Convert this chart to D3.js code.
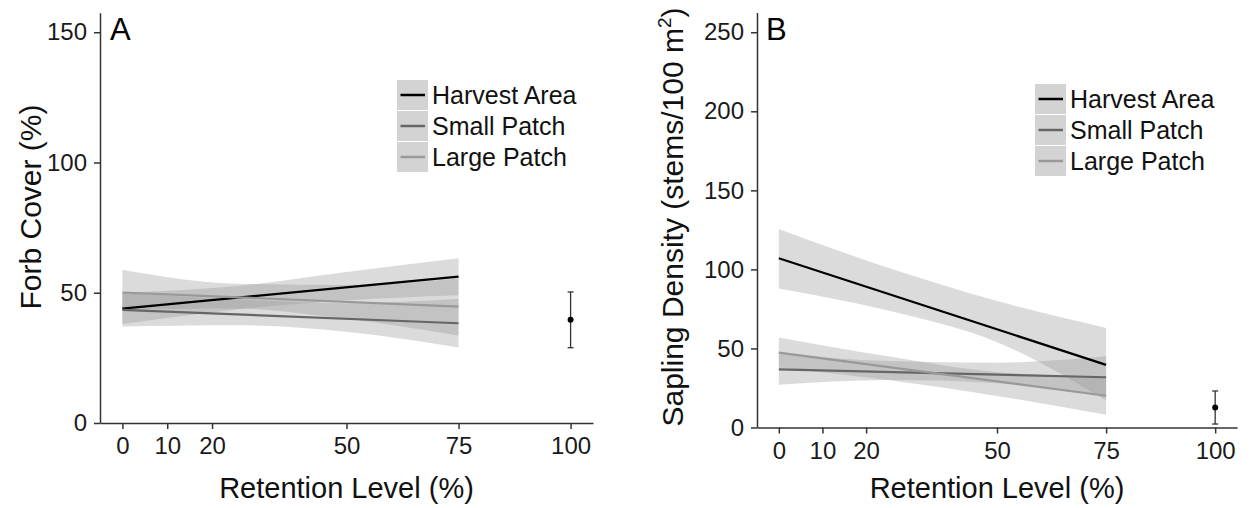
<!DOCTYPE html>
<html>
<head>
<meta charset="utf-8">
<script src="https://cdn.jsdelivr.net/npm/d3@7"></script>
<style>
  body { margin: 0; background: #fff; }
  svg { font-family: "Liberation Sans", Arial, sans-serif; }
</style>
</head>
<body>
<svg id="chart" width="1250" height="508"></svg>
<script>
// retention levels
let xTicks = [0, 10, 20, 50, 75, 100];
let fitX = [0, 75];          // ends of the fitted lines
let bandX = [0, 25, 50, 75]; // where the ribbon edges were read
let groups = ["Harvest Area", "Small Patch", "Large Patch"];
let lineColors = ["#000000", "#666666", "#999999"];

// panel A : forb cover (%)
let forbTicks = [0, 50, 100, 150];
let forbFit = [[43.9, 56.2], [43.4, 38.3], [50.1, 44.7]];
let forbLower = [[38, 43.5, 47, 49], [37, 37.5, 35, 29], [43.5, 44, 40, 33.6]];
let forbUpper = [[50, 52.5, 58, 63.2], [50, 47.5, 46, 47.7], [58.8, 53.5, 53, 55.5]];
let forbControl = {mean: 39.6, lo: 28.9, hi: 50.3};

// panel B : sapling density (stems/100 m2)
let saplingTicks = [0, 50, 100, 150, 200, 250];
let saplingFit = [[107.1, 39.6], [36.8, 31.8], [47.4, 20.1]];
let saplingLower = [[88, 74, 54, 17], [27, 30, 28, 20], [38, 30, 20, 8]];
let saplingUpper = [[125.6, 101, 80, 63], [47, 42, 41, 45], [57, 45, 35, 32]];
let saplingControl = {mean: 12.7, lo: 2.2, hi: 23.1};

let svg = d3.select("#chart");

function drawPanel(cfg) {
  let {left, right, top, bottom, yMax, yTicks, fit, lower, upper, control} = cfg;

  let xScale = d3.scaleLinear().domain([-5, 105]).range([left, right]);
  let yScale = d3.scaleLinear().domain([0, yMax * 1.05]).range([bottom, top]);

  let g = svg.append("g");

  // ribbons
  let area = d3.area()
    .x(d => xScale(d.x))
    .y0(d => yScale(d.lo))
    .y1(d => yScale(d.hi))
    .curve(d3.curveMonotoneX);

  groups.forEach((name, i) => {
    let pts = bandX.map((x, j) => ({x: x, lo: lower[i][j], hi: upper[i][j]}));
    g.append("path")
      .attr("d", area(pts))
      .attr("fill", "#999999")
      .attr("fill-opacity", 0.35);
  });

  // fitted lines
  let line = d3.line().x(d => xScale(d[0])).y(d => yScale(d[1]));
  groups.forEach((name, i) => {
    g.append("path")
      .attr("d", line(fitX.map((x, j) => [x, fit[i][j]])))
      .attr("fill", "none")
      .attr("stroke", lineColors[i])
      .attr("stroke-width", 2.2);
  });

  // control (100% retention) mean and error bar
  let cx = xScale(100);
  g.append("line")
    .attr("x1", cx).attr("x2", cx)
    .attr("y1", yScale(control.lo)).attr("y2", yScale(control.hi))
    .attr("stroke", "#333").attr("stroke-width", 1.3);
  [control.lo, control.hi].forEach(v => {
    g.append("line")
      .attr("x1", cx - 3).attr("x2", cx + 3)
      .attr("y1", yScale(v)).attr("y2", yScale(v))
      .attr("stroke", "#333").attr("stroke-width", 1.3);
  });
  g.append("circle")
    .attr("cx", cx).attr("cy", yScale(control.mean))
    .attr("r", 3).attr("fill", "#000");

  // axes
  let axisX = d3.axisBottom(xScale).tickValues(xTicks).tickSize(6).tickPadding(8).tickSizeOuter(0);
  let gx = svg.append("g")
    .attr("transform", `translate(0,${bottom})`)
    .call(axisX);
  let axisY = d3.axisLeft(yScale).tickValues(yTicks).tickSize(6).tickPadding(7).tickSizeOuter(0);
  let gy = svg.append("g")
    .attr("transform", `translate(${left},0)`)
    .call(axisY);

  [gx, gy].forEach(a => {
    a.select(".domain").attr("stroke", "#333").attr("stroke-width", 1.5);
    a.selectAll(".tick line").attr("stroke", "#333").attr("stroke-width", 1.5);
    a.selectAll(".tick text").attr("font-size", 24).attr("fill", "#1a1a1a")
      .attr("font-family", "Liberation Sans, Arial, sans-serif");
  });

  // x axis title
  svg.append("text")
    .attr("x", (left + right) / 2)
    .attr("y", 498)
    .attr("text-anchor", "middle")
    .attr("font-size", 29)
    .attr("fill", "#111")
    .text("Retention Level (%)");

  // panel letter
  svg.append("text")
    .attr("x", cfg.letterX).attr("y", 40)
    .attr("font-size", 31)
    .attr("fill", "#000")
    .text(cfg.letter);

  // legend
  let leg = svg.append("g").attr("transform", `translate(${cfg.legendX},${cfg.legendY})`);
  groups.forEach((name, i) => {
    let row = leg.append("g").attr("transform", `translate(0,${i * 31})`);
    row.append("rect")
      .attr("width", 31).attr("height", 30)
      .attr("fill", "#d3d3d3");
    row.append("line")
      .attr("x1", 3.5).attr("x2", 28)
      .attr("y1", 15).attr("y2", 15)
      .attr("stroke", lineColors[i])
      .attr("stroke-width", 2.5);
    row.append("text")
      .attr("x", 35).attr("y", 15)
      .attr("dy", "0.35em")
      .attr("font-size", 25)
      .attr("fill", "#111")
      .text(name);
  });
}

drawPanel({
  left: 100, right: 593, top: 12.7, bottom: 423,
  yMax: 150, yTicks: forbTicks,
  fit: forbFit, lower: forbLower, upper: forbUpper, control: forbControl,
  letter: "A", letterX: 110, legendX: 397, legendY: 80
});

drawPanel({
  left: 757, right: 1237, top: 12.5, bottom: 427.5,
  yMax: 250, yTicks: saplingTicks,
  fit: saplingFit, lower: saplingLower, upper: saplingUpper, control: saplingControl,
  letter: "B", letterX: 766, legendX: 1035, legendY: 84
});

// y axis titles (baseline on the right after rotation)
svg.append("text")
  .attr("transform", "translate(41,207) rotate(-90)")
  .attr("text-anchor", "middle")
  .attr("font-size", 30)
  .attr("fill", "#111")
  .text("Forb Cover (%)");

let yt = svg.append("text")
  .attr("transform", "translate(683,217) rotate(-90)")
  .attr("text-anchor", "middle")
  .attr("font-size", 30)
  .attr("fill", "#111");
yt.append("tspan").text("Sapling Density (stems/100 m");
yt.append("tspan").attr("font-size", 19).attr("dy", -12).text("2");
yt.append("tspan").attr("dy", 12).text(")");
</script>
</body>
</html>
